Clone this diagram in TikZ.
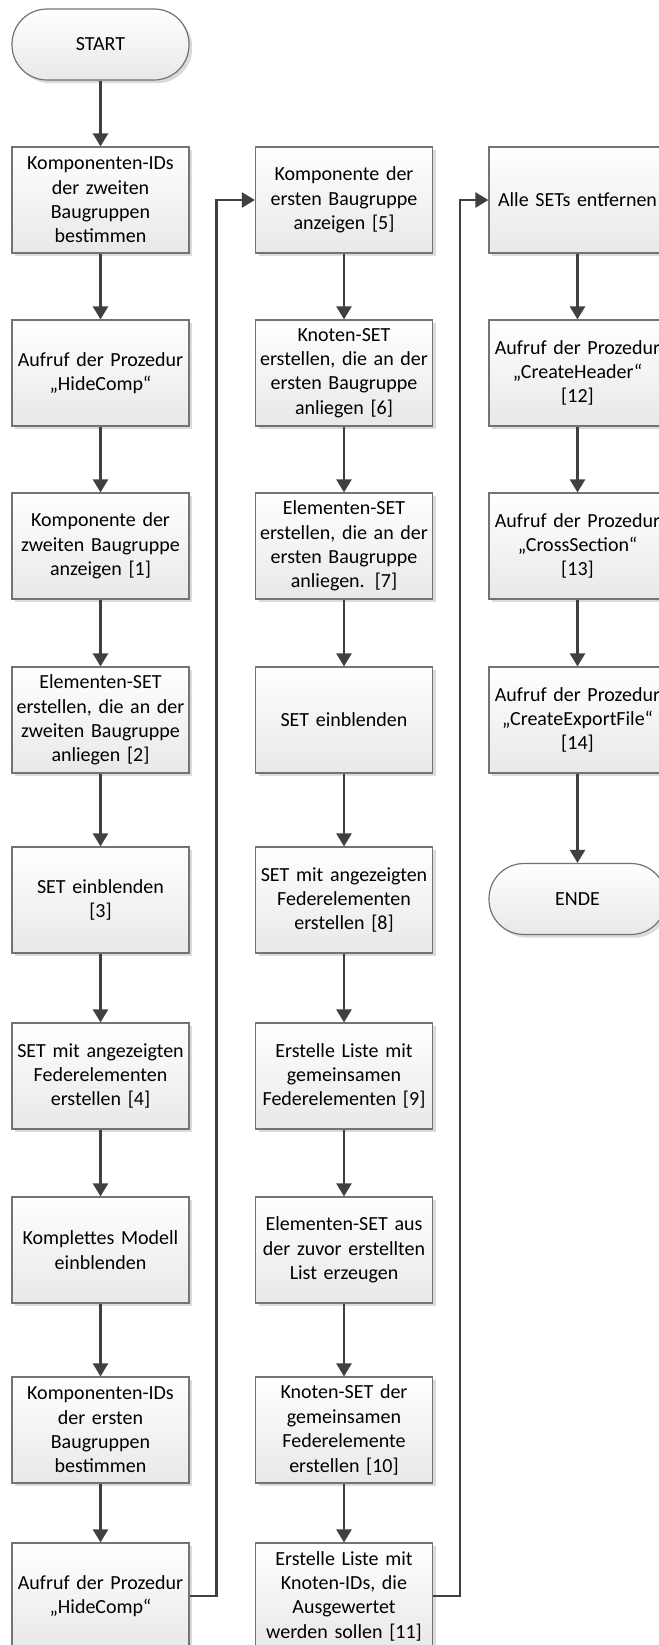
\documentclass[tikz,border=0pt]{standalone}
\usepackage{fontspec}
\setmainfont{Carlito}
\usetikzlibrary{arrows.meta,shadows}

\begin{document}
\begin{tikzpicture}[x=0.5pt,y=-0.5pt,
  box/.style={draw=black!55,line width=0.6pt,top color=white,bottom color=black!9,
    drop shadow={shadow xshift=1.6pt,shadow yshift=-1.6pt,fill=black!14,opacity=1},
    minimum width=88.5pt,minimum height=53pt,text width=84pt,inner sep=0pt,
    align=center,font=\fontsize{10}{12.2}\selectfont},
  term/.style={box,rounded corners=17.5pt,minimum height=35.5pt},
  flow/.style={draw=black!75,line width=1.2pt,-{Triangle[length=6.5pt,width=7.5pt]}}]
\useasboundingbox (0,0) rectangle (659,1645);
\clip (0,0) rectangle (659,1645);

% first column
\node[term] (start) at (100.5,44.5) {START};
\node[box] (a1) at (100.5,200) {Komponenten-IDs\\der zweiten\\Baugruppen\\bestimmen};
\node[box] (a2) at (100.5,373) {Aufruf der Prozedur\\„HideComp“};
\node[box] (a3) at (100.5,546) {Komponente der\\zweiten Baugruppe\\anzeigen [1]};
\node[box] (a4) at (100.5,720) {Elementen-SET\\erstellen, die an der\\zweiten Baugruppe\\anliegen [2]};
\node[box] (a5) at (100.5,900) {SET einblenden\\{[3]}};
\node[box] (a6) at (100.5,1076) {SET mit angezeigten\\Federelementen\\erstellen [4]};
\node[box] (a7) at (100.5,1250) {Komplettes Modell\\einblenden};
\node[box] (a8) at (100.5,1430) {Komponenten-IDs\\der ersten\\Baugruppen\\bestimmen};
\node[box] (a9) at (100.5,1596) {Aufruf der Prozedur\\„HideComp“};

% second column
\node[box] (b1) at (344,200) {Komponente der\\ersten Baugruppe\\anzeigen [5]};
\node[box] (b2) at (344,373) {Knoten-SET\\erstellen, die an der\\ersten Baugruppe\\anliegen [6]};
\node[box] (b3) at (344,546) {Elementen-SET\\erstellen, die an der\\ersten Baugruppe\\anliegen. [7]};
\node[box] (b4) at (344,720) {SET einblenden};
\node[box] (b5) at (344,900) {SET mit angezeigten\\Federelementen\\erstellen [8]};
\node[box] (b6) at (344,1076) {Erstelle Liste mit\\gemeinsamen\\Federelementen [9]};
\node[box] (b7) at (344,1250) {Elementen-SET aus\\der zuvor erstellten\\List erzeugen};
\node[box] (b8) at (344,1430) {Knoten-SET der\\gemeinsamen\\Federelemente\\erstellen [10]};
\node[box] (b9) at (344,1596) {Erstelle Liste mit\\Knoten-IDs, die\\Ausgewertet\\werden sollen [11]};

% third column
\node[box] (c1) at (577.5,200) {Alle SETs entfernen};
\node[box] (c2) at (577.5,373) {Aufruf der Prozedur\\„CreateHeader“\\{[12]}};
\node[box] (c3) at (577.5,546) {Aufruf der Prozedur\\„CrossSection“\\{[13]}};
\node[box] (c4) at (577.5,720) {Aufruf der Prozedur\\„CreateExportFile“\\{[14]}};
\node[term] (ende) at (577.5,899) {ENDE};

\draw[flow] (start) -- (a1);
\draw[flow] (a1) -- (a2);
\draw[flow] (a2) -- (a3);
\draw[flow] (a3) -- (a4);
\draw[flow] (a4) -- (a5);
\draw[flow] (a5) -- (a6);
\draw[flow] (a6) -- (a7);
\draw[flow] (a7) -- (a8);
\draw[flow] (a8) -- (a9);
\draw[flow] (a9.east) -- ++(27,0) |- (b1.west);
\draw[flow] (b1) -- (b2);
\draw[flow] (b2) -- (b3);
\draw[flow] (b3) -- (b4);
\draw[flow] (b4) -- (b5);
\draw[flow] (b5) -- (b6);
\draw[flow] (b6) -- (b7);
\draw[flow] (b7) -- (b8);
\draw[flow] (b8) -- (b9);
\draw[flow] (b9.east) -- ++(27,0) |- (c1.west);
\draw[flow] (c1) -- (c2);
\draw[flow] (c2) -- (c3);
\draw[flow] (c3) -- (c4);
\draw[flow] (c4) -- (ende);
\end{tikzpicture}
\end{document}
